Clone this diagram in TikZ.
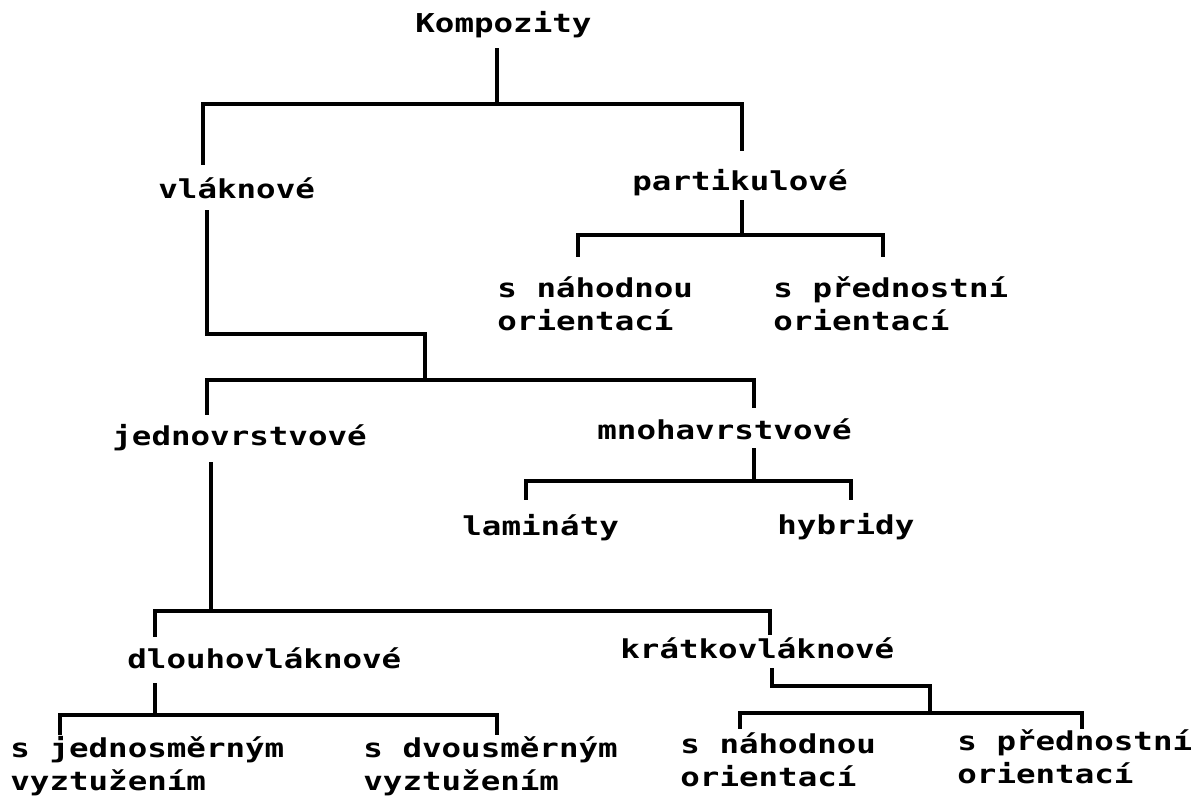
\documentclass[tikz,border=0pt]{standalone}
\usepackage{fontspec}
\newfontfamily\typw[FakeStretch=1.25]{DejaVu Sans Mono}
\newcommand\twoline[2]{\vtop{\baselineskip=16.5pt\hbox{#1}\hbox{#2}}}
\tikzset{
  lbl/.style={inner sep=0pt, anchor=base west, font=\typw\bfseries\fontsize{13}{16.5}\selectfont},
  conn/.style={line width=1.8pt},
}
\begin{document}
\begin{tikzpicture}[x=0.5pt,y=-0.5pt]
\useasboundingbox (0,0) rectangle (1200,810);
% labels
\node[lbl] (komp) at (415,32) {Kompozity};
\node[lbl] (vlak) at (158,198) {vláknové};
\node[lbl] (part) at (632,190) {partikulové};
\node[lbl] (pn) at (497,297) {\twoline{s náhodnou}{orientací}};
\node[lbl] (pp) at (773,297) {\twoline{s přednostní}{orientací}};
\node[lbl] (jedn) at (112,445) {jednovrstvové};
\node[lbl] (mnoh) at (597,439) {mnohavrstvové};
\node[lbl] (lam) at (462,535) {lamináty};
\node[lbl] (hyb) at (777,534) {hybridy};
\node[lbl] (dlo) at (127,668) {dlouhovláknové};
\node[lbl] (kra) at (620,658) {krátkovláknové};
\node[lbl] (sj) at (10,757) {\twoline{s jednosměrným}{vyztužením}};
\node[lbl] (sd) at (363,757) {\twoline{s dvousměrným}{vyztužením}};
\node[lbl] (kn) at (680,753) {\twoline{s náhodnou}{orientací}};
\node[lbl] (kp) at (957,750) {\twoline{s přednostní}{orientací}};
% connector points
\coordinate (k-out) at (497,48);  \coordinate (kbar) at (497,104);
\coordinate (vl-in) at (203,165); \coordinate (pa-in) at (742,151);
\coordinate (vl-out) at (207,210); \coordinate (vl-turn) at (425,334);
\coordinate (vbar) at (425,380);
\coordinate (jv-in) at (207,415); \coordinate (mv-in) at (754,408);
\coordinate (pa-out) at (742,200); \coordinate (pbar) at (742,235);
\coordinate (pn-in) at (578,257); \coordinate (pp-in) at (883,257);
\coordinate (jv-out) at (211,462); \coordinate (jbar) at (211,611);
\coordinate (dl-in) at (155,637); \coordinate (kr-in) at (770,635);
\coordinate (mv-out) at (754,448); \coordinate (mbar) at (754,481);
\coordinate (la-in) at (526,500); \coordinate (hy-in) at (851,500);
\coordinate (dl-out) at (155,683); \coordinate (dbar) at (155,715);
\coordinate (sj-in) at (60,735); \coordinate (sd-in) at (497,735);
\coordinate (kr-out) at (772,668); \coordinate (kr-turn) at (930,686);
\coordinate (kbar2) at (930,713);
\coordinate (kn-in) at (740,729); \coordinate (kp-in) at (1082,729);
% connectors
\draw[conn] (k-out) -- (kbar) -| (vl-in);
\draw[conn] (kbar) -| (pa-in);
\draw[conn] (pa-out) -- (pbar) -| (pn-in);
\draw[conn] (pbar) -| (pp-in);
\draw[conn] (vl-out) |- (vl-turn) -- (vbar) -| (jv-in);
\draw[conn] (vbar) -| (mv-in);
\draw[conn] (mv-out) -- (mbar) -| (la-in);
\draw[conn] (mbar) -| (hy-in);
\draw[conn] (jv-out) -- (jbar) -| (dl-in);
\draw[conn] (jbar) -| (kr-in);
\draw[conn] (dl-out) -- (dbar) -| (sj-in);
\draw[conn] (dbar) -| (sd-in);
\draw[conn] (kr-out) |- (kr-turn) -- (kbar2) -| (kn-in);
\draw[conn] (kbar2) -| (kp-in);
\end{tikzpicture}
\end{document}
